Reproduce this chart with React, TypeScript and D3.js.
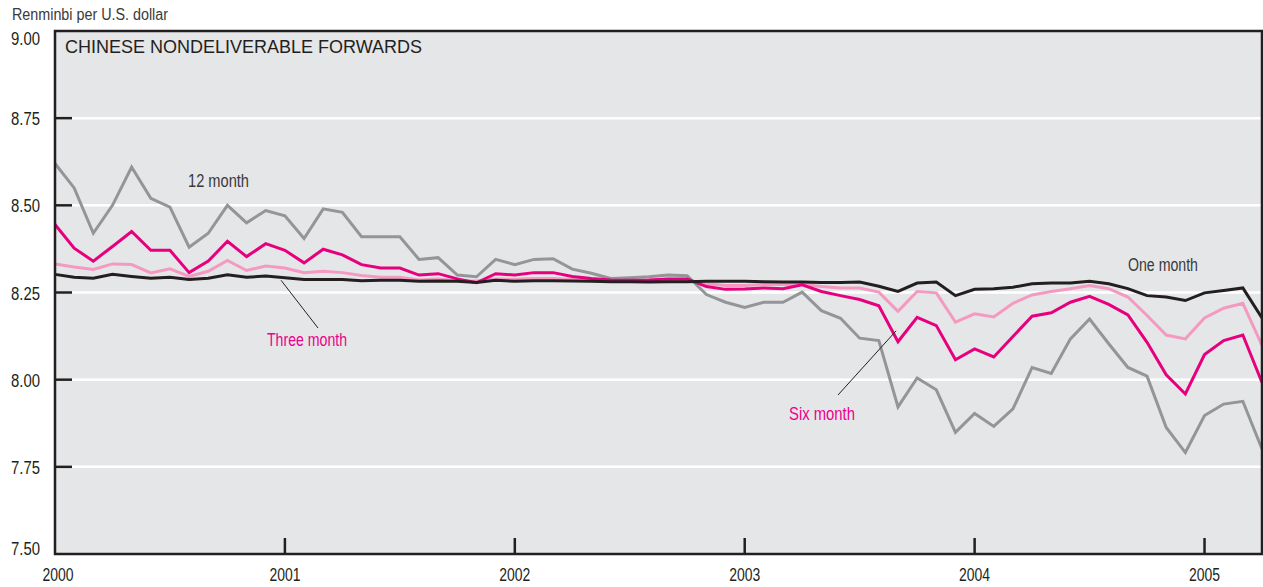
import React from 'react';
import * as d3 from 'd3';

// monthly observations, Jan 2000 .. Apr 2005
const oneMonth = [
  8.302, 8.294, 8.291, 8.302, 8.296, 8.291, 8.294, 8.287, 8.291, 8.301, 8.294, 8.297,
  8.292, 8.287, 8.287, 8.287, 8.284, 8.285, 8.285, 8.282, 8.283, 8.282, 8.279, 8.285,
  8.282, 8.284, 8.284, 8.283, 8.282, 8.281, 8.281, 8.28, 8.281, 8.281, 8.282, 8.282,
  8.282, 8.281, 8.28, 8.28, 8.279, 8.279, 8.28, 8.268, 8.253, 8.277, 8.28, 8.241,
  8.259, 8.261, 8.265, 8.275, 8.277, 8.277, 8.282, 8.275, 8.261, 8.241, 8.237, 8.227,
  8.249, 8.256, 8.263, 8.177,
];
const threeMonth = [
  8.332, 8.323, 8.316, 8.332, 8.33, 8.306, 8.318, 8.296, 8.311, 8.342, 8.313, 8.326,
  8.32, 8.307, 8.311, 8.307, 8.299, 8.294, 8.294, 8.286, 8.289, 8.284, 8.283, 8.289,
  8.288, 8.29, 8.29, 8.287, 8.285, 8.284, 8.284, 8.285, 8.286, 8.285, 8.275, 8.27,
  8.27, 8.273, 8.273, 8.273, 8.267, 8.263, 8.263, 8.251, 8.196, 8.253, 8.249, 8.165,
  8.189, 8.18, 8.219, 8.243, 8.253, 8.261, 8.27, 8.261, 8.237, 8.184, 8.128, 8.117,
  8.177, 8.205, 8.219, 8.098,
];
const sixMonth = [
  8.445, 8.377, 8.34, 8.382, 8.425, 8.371, 8.371, 8.307, 8.34, 8.397, 8.353, 8.39,
  8.371, 8.335, 8.374, 8.358, 8.33, 8.32, 8.32, 8.3, 8.304, 8.289, 8.278, 8.304,
  8.3, 8.307, 8.307, 8.296, 8.29, 8.286, 8.285, 8.286, 8.289, 8.289, 8.267, 8.259,
  8.26, 8.263, 8.261, 8.272, 8.253, 8.241, 8.23, 8.212, 8.109, 8.179, 8.155, 8.057,
  8.088, 8.065, 8.124, 8.182, 8.192, 8.222, 8.239, 8.216, 8.186, 8.107, 8.014, 7.959,
  8.072, 8.112, 8.128, 7.992,
];
const twelveMonth = [
  8.62, 8.55, 8.42, 8.5, 8.61, 8.52, 8.495, 8.38, 8.42, 8.5, 8.45, 8.485,
  8.47, 8.405, 8.49, 8.48, 8.41, 8.41, 8.41, 8.345, 8.35, 8.3, 8.295, 8.345,
  8.33, 8.345, 8.347, 8.317, 8.305, 8.29, 8.292, 8.295, 8.3, 8.298, 8.244, 8.222,
  8.207, 8.222, 8.222, 8.251, 8.198, 8.176, 8.119, 8.112, 7.922, 8.005, 7.971, 7.849,
  7.903, 7.866, 7.916, 8.035, 8.018, 8.117, 8.174, 8.103, 8.035, 8.01, 7.863, 7.791,
  7.897, 7.93, 7.938, 7.801,
];

const yearLabels = ['2000', '2001', '2002', '2003', '2004', '2005'];
const yTicks = [9.0, 8.75, 8.5, 8.25, 8.0, 7.75, 7.5];

const series = [
  { name: '12 month', values: twelveMonth, color: '#939598' },
  { name: 'Three month', values: threeMonth, color: '#f49ac1' },
  { name: 'Six month', values: sixMonth, color: '#e6007e' },
  { name: 'One month', values: oneMonth, color: '#231f20' },
];

const FONT = '"Liberation Sans", Arial, sans-serif';

// condensed-looking label: real text squeezed to the width it has in the original
const Label = (props: {
  x: number;
  y: number;
  w: number;
  size?: number;
  fill?: string;
  anchor?: string;
  children: string;
}) => {
  const { x, y, w, size = 18, fill = '#3a3a3a', anchor = 'start', children } = props;
  return (
    <text
      x={x}
      y={y}
      fontSize={size}
      fill={fill}
      textAnchor={anchor}
      textLength={w}
      lengthAdjust="spacingAndGlyphs"
    >
      {children}
    </text>
  );
};

const App = () => {
  const width = 1263;
  const height = 587;
  const margin = { top: 31, right: 1, bottom: 33, left: 55 };

  const x = d3
    .scaleLinear()
    .domain([0, oneMonth.length - 1])
    .range([margin.left, width - margin.right]);
  const y = d3
    .scaleLinear()
    .domain([7.5, 9.0])
    .range([height - margin.bottom, margin.top]);

  const line = d3
    .line<number>()
    .x((_, i) => x(i))
    .y((d) => y(d));

  const x0 = x.range()[0];
  const x1 = x.range()[1];
  const yTop = y(9.0);
  const yBot = y(7.5);

  return (
    <svg
      width={width}
      height={height}
      style={{ position: 'absolute', left: 0, top: 0, fontFamily: FONT }}
    >
      <rect x={x0} y={yTop} width={x1 - x0} height={yBot - yTop} fill="#e5e6e8" />

      {/* gridlines */}
      {yTicks.slice(1, -1).map((t) => (
        <line key={t} x1={x0} x2={x1} y1={y(t)} y2={y(t)} stroke="#fff" strokeWidth={2.5} />
      ))}

      {/* y ticks and labels */}
      {yTicks.map((t) => (
        <g key={'yt' + t}>
          {t > 7.5 && t < 9 && (
            <line x1={x0} x2={x0 + 17} y1={y(t)} y2={y(t)} stroke="#231f20" strokeWidth={2.5} />
          )}
          <Label x={40} y={Math.min(555, Math.max(45, y(t) + 7))} w={29} anchor="end" fill="#231f20">
            {t.toFixed(2)}
          </Label>
        </g>
      ))}

      {/* x ticks and labels */}
      {yearLabels.map((lab, i) => (
        <g key={lab}>
          {i > 0 && (
            <line x1={x(i * 12)} x2={x(i * 12)} y1={yBot} y2={yBot - 16} stroke="#231f20" strokeWidth={2.5} />
          )}
          <Label x={i === 0 ? x(0) + 3 : x(i * 12)} y={581} w={31} anchor="middle" fill="#231f20">
            {lab}
          </Label>
        </g>
      ))}

      {/* data lines */}
      {series.map((s) => (
        <path
          key={s.name}
          d={line(s.values) as string}
          fill="none"
          stroke={s.color}
          strokeWidth={3}
          strokeLinejoin="miter"
        />
      ))}

      {/* frame */}
      <rect
        x={x0}
        y={yTop}
        width={x1 - x0}
        height={yBot - yTop}
        fill="none"
        stroke="#231f20"
        strokeWidth={2.5}
      />

      {/* annotations */}
      <line x1={x(11.8)} y1={y(8.285)} x2={318} y2={328} stroke="#231f20" strokeWidth={1} />
      <line x1={x(43.9)} y1={y(8.14)} x2={838} y2={395} stroke="#231f20" strokeWidth={1} />

      <Label x={188} y={187} w={61}>12 month</Label>
      <Label x={267} y={346} w={80} fill="#ec008c">Three month</Label>
      <Label x={789} y={420} w={66} fill="#ec008c">Six month</Label>
      <Label x={1128} y={271} w={70}>One month</Label>

      <Label x={65} y={52.5} w={357} fill="#231f20">CHINESE NONDELIVERABLE FORWARDS</Label>
      <Label x={12} y={20} w={156} size={16}>Renminbi per U.S. dollar</Label>
    </svg>
  );
};

export default App;
